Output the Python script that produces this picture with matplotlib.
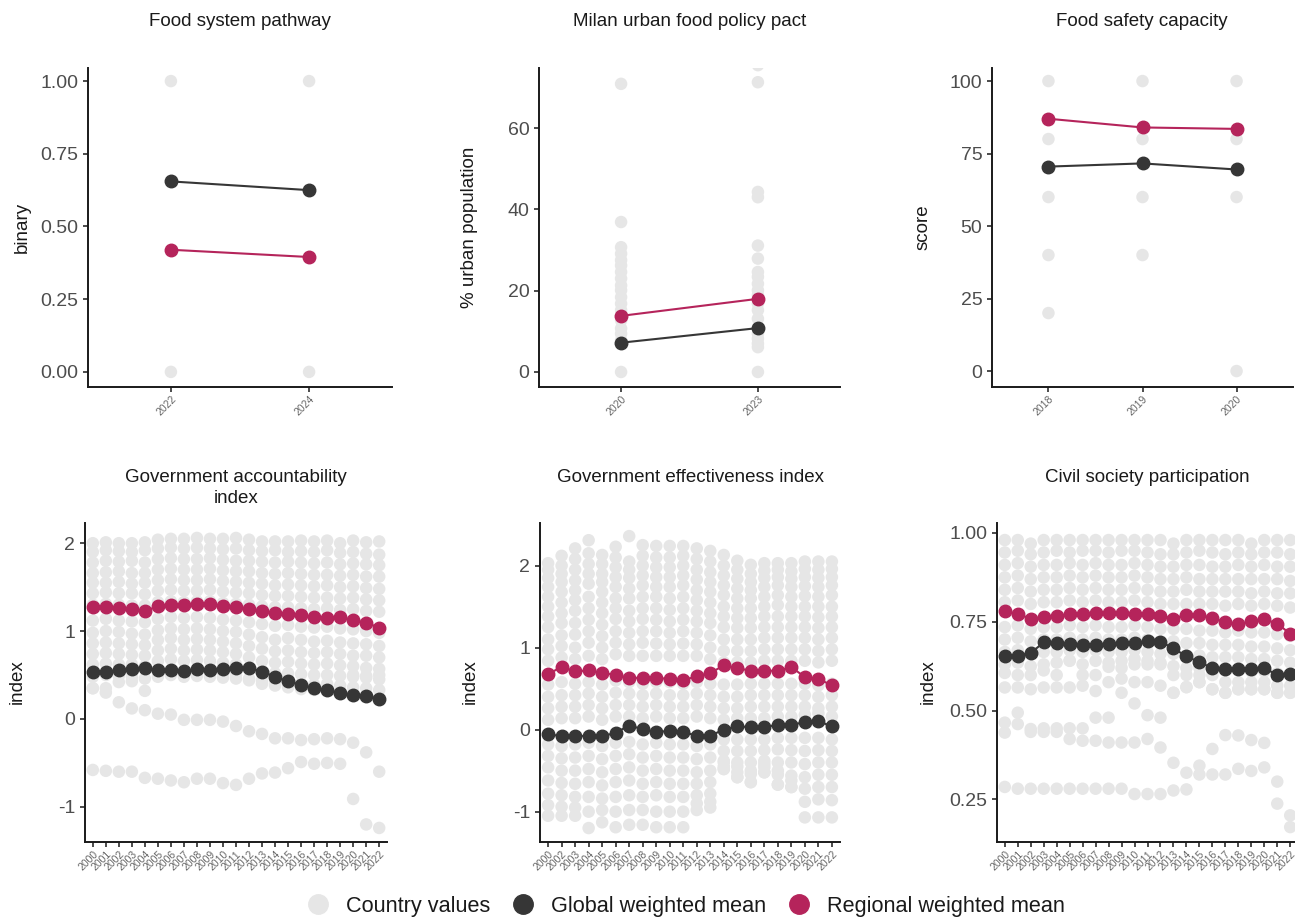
import matplotlib.pyplot as plt
from matplotlib.lines import Line2D

plt.rcParams['font.family'] = ['Liberation Sans', 'DejaVu Sans']

GREY = '#E6E6E6'
GLOBAL = '#363636'
REGIONAL = '#B5245B'

# ---- Food system pathway (values per year) ----
fsp_years = ['2022', '2024']
fsp_country = [[0, 1], [0, 1]]
fsp_global = [0.655, 0.625]
fsp_regional = [0.42, 0.395]

# ---- Milan urban food policy pact (values per year) ----
milan_years = ['2020', '2023']
milan_country = [
    [0, 7, 7.8, 9.4, 10.7, 12.7, 15.2, 16.8, 18.4, 20.1, 21.3, 23, 24.6, 26.2, 27.5, 29.1, 30.7, 36.9, 70.9],
    [0, 6.1, 7, 8.2, 9.4, 10.7, 13.1, 15.2, 16.8, 18.9, 20.1, 21.7, 23.4, 24.6, 27.9, 31.1, 43, 44.3, 71.3, 75.5],
]
milan_global = [7.2, 10.8]
milan_regional = [13.8, 18.0]

# ---- Food safety capacity (values per year) ----
fsc_years = ['2018', '2019', '2020']
fsc_country = [[20, 40, 60, 80, 100], [40, 60, 80, 100], [0, 60, 80, 100]]
fsc_global = [70.5, 71.6, 69.5]
fsc_regional = [87.0, 84.0, 83.5]

# ---- Government accountability index (one row per country) ----
ga_years = ['2000', '2001', '2002', '2003', '2004', '2005', '2006', '2007', '2008', '2009', '2010', '2011',
            '2012', '2013', '2014', '2015', '2016', '2017', '2018', '2019', '2020', '2021', '2022']
ga_country = [
    [2.00, 2.01, 2.00, 2.00, 2.01, 2.04, 2.05, 2.05, 2.06, 2.05, 2.05, 2.06, 2.04, 2.02, 2.02, 2.02, 2.03, 2.02, 2.03, 2.00, 2.03, 2.01, 2.02],
    [1.90, 1.92, 1.91, 1.90, 1.92, 1.94, 1.95, 1.94, 1.95, 1.94, 1.93, 1.94, 1.92, 1.91, 1.92, 1.90, 1.91, 1.90, 1.92, 1.89, 1.90, 1.88, 1.87],
    [1.78, 1.80, 1.79, 1.80, 1.78, 1.82, 1.83, 1.82, 1.82, 1.83, 1.81, 1.80, 1.80, 1.79, 1.78, 1.79, 1.78, 1.77, 1.78, 1.76, 1.77, 1.76, 1.75],
    [1.66, 1.67, 1.68, 1.66, 1.66, 1.70, 1.71, 1.70, 1.70, 1.71, 1.69, 1.68, 1.68, 1.66, 1.65, 1.66, 1.65, 1.64, 1.64, 1.63, 1.64, 1.62, 1.62],
    [1.55, 1.55, 1.56, 1.54, 1.55, 1.58, 1.59, 1.58, 1.58, 1.59, 1.57, 1.56, 1.55, 1.54, 1.52, 1.53, 1.52, 1.51, 1.52, 1.50, 1.51, 1.49, 1.48],
    [1.43, 1.44, 1.43, 1.43, 1.42, 1.46, 1.47, 1.46, 1.46, 1.47, 1.45, 1.44, 1.43, 1.41, 1.40, 1.40, 1.39, 1.38, 1.38, 1.37, 1.38, 1.36, 1.35],
    [1.30, 1.31, 1.30, 1.29, 1.29, 1.33, 1.34, 1.33, 1.34, 1.34, 1.32, 1.31, 1.30, 1.28, 1.27, 1.27, 1.26, 1.25, 1.26, 1.24, 1.25, 1.23, 1.22],
    [1.12, 1.14, 1.12, 1.11, 1.10, 1.14, 1.16, 1.15, 1.16, 1.15, 1.13, 1.12, 1.10, 1.08, 1.06, 1.07, 1.05, 1.04, 1.05, 1.03, 1.02, 1.00, 0.98],
    [0.98, 1.00, 0.99, 0.97, 0.96, 1.01, 1.03, 1.02, 1.03, 1.02, 1.00, 0.99, 0.96, 0.93, 0.90, 0.92, 0.90, 0.88, 0.89, 0.87, 0.86, 0.85, 0.83],
    [0.86, 0.87, 0.86, 0.85, 0.84, 0.90, 0.92, 0.90, 0.91, 0.90, 0.88, 0.86, 0.83, 0.80, 0.77, 0.78, 0.76, 0.75, 0.76, 0.74, 0.72, 0.72, 0.70],
    [0.74, 0.75, 0.74, 0.73, 0.72, 0.78, 0.80, 0.78, 0.79, 0.78, 0.76, 0.74, 0.70, 0.66, 0.64, 0.65, 0.63, 0.62, 0.63, 0.61, 0.60, 0.58, 0.57],
    [0.62, 0.63, 0.62, 0.62, 0.60, 0.66, 0.68, 0.66, 0.67, 0.66, 0.64, 0.62, 0.58, 0.54, 0.52, 0.52, 0.51, 0.50, 0.50, 0.49, 0.48, 0.47, 0.45],
    [0.48, 0.50, 0.49, 0.48, 0.46, 0.54, 0.55, 0.54, 0.54, 0.53, 0.52, 0.50, 0.46, 0.44, 0.41, 0.40, 0.40, 0.39, 0.40, 0.38, 0.36, 0.35, 0.33],
    [0.35, 0.30, 0.42, 0.43, 0.32, 0.48, 0.50, 0.48, 0.49, 0.48, 0.47, 0.46, 0.44, 0.40, 0.38, 0.36, 0.34, 0.33, 0.33, 0.30, 0.50, 0.49, 0.50],
    [0.35, 0.35, 0.19, 0.12, 0.10, 0.06, 0.05, -0.01, -0.01, -0.01, -0.03, -0.08, -0.14, -0.17, -0.22, -0.22, -0.24, -0.23, -0.22, -0.23, -0.27, -0.38, -0.60],
    [-0.58, -0.59, -0.60, -0.60, -0.67, -0.68, -0.70, -0.72, -0.68, -0.68, -0.73, -0.75, -0.68, -0.62, -0.61, -0.56, -0.49, -0.51, -0.50, -0.51, -0.91, -1.20, -1.24],
]
ga_global = [0.54, 0.54, 0.555, 0.57, 0.575, 0.555, 0.555, 0.548, 0.563, 0.555, 0.563, 0.58, 0.578,
             0.54, 0.479, 0.43, 0.388, 0.35, 0.327, 0.297, 0.274, 0.266, 0.228]
ga_regional = [1.274, 1.274, 1.259, 1.251, 1.228, 1.281, 1.297, 1.297, 1.304, 1.304, 1.285, 1.274, 1.255,
               1.224, 1.202, 1.194, 1.183, 1.16, 1.152, 1.16, 1.125, 1.095, 1.038]

# ---- Government effectiveness index (no 2001) ----
ge_years = ['2000', '2002', '2003', '2004', '2005', '2006', '2007', '2008', '2009', '2010', '2011',
            '2012', '2013', '2014', '2015', '2016', '2017', '2018', '2019', '2020', '2021', '2022']
ge_country = [
    [2.03, 2.12, 2.21, 2.31, 2.13, 2.23, 2.36, 2.25, 2.24, 2.24, 2.24, 2.21, 2.18, 2.13, 2.06, 2.01, 2.03, 2.03, 2.03, 2.05, 2.05, 2.05],
    [1.95, 2.00, 2.08, 2.15, 2.02, 2.10, 2.05, 2.12, 2.10, 2.10, 2.12, 2.08, 2.05, 2.00, 1.95, 1.90, 1.94, 1.95, 1.93, 1.96, 1.95, 1.96],
    [1.85, 1.90, 1.95, 2.02, 1.90, 1.98, 1.95, 2.00, 1.98, 1.98, 2.00, 1.95, 1.92, 1.88, 1.84, 1.80, 1.85, 1.86, 1.84, 1.86, 1.85, 1.86],
    [1.74, 1.80, 1.82, 1.90, 1.80, 1.86, 1.85, 1.88, 1.86, 1.86, 1.88, 1.83, 1.80, 1.76, 1.72, 1.70, 1.74, 1.76, 1.74, 1.75, 1.74, 1.76],
    [1.62, 1.68, 1.70, 1.78, 1.68, 1.74, 1.72, 1.76, 1.74, 1.74, 1.76, 1.70, 1.68, 1.64, 1.60, 1.60, 1.62, 1.64, 1.62, 1.63, 1.62, 1.64],
    [1.50, 1.55, 1.58, 1.62, 1.55, 1.60, 1.60, 1.62, 1.62, 1.60, 1.62, 1.58, 1.55, 1.50, 1.48, 1.48, 1.50, 1.52, 1.50, 1.50, 1.50, 1.50],
    [1.38, 1.42, 1.45, 1.48, 1.42, 1.48, 1.45, 1.48, 1.48, 1.46, 1.48, 1.45, 1.42, 1.38, 1.36, 1.36, 1.38, 1.38, 1.38, 1.38, 1.37, 1.38],
    [1.25, 1.30, 1.30, 1.34, 1.28, 1.35, 1.32, 1.35, 1.34, 1.32, 1.34, 1.32, 1.30, 1.25, 1.24, 1.24, 1.25, 1.25, 1.25, 1.25, 1.24, 1.25],
    [1.10, 1.15, 1.16, 1.20, 1.14, 1.20, 1.18, 1.20, 1.20, 1.18, 1.20, 1.18, 1.15, 1.10, 1.10, 1.10, 1.12, 1.12, 1.12, 1.12, 1.10, 1.12],
    [0.98, 1.02, 1.00, 1.06, 1.00, 1.06, 1.04, 1.06, 1.05, 1.04, 1.05, 1.04, 1.00, 0.96, 0.96, 0.96, 0.98, 0.98, 0.98, 0.98, 0.96, 0.98],
    [0.84, 0.88, 0.86, 0.90, 0.86, 0.92, 0.90, 0.90, 0.90, 0.90, 0.90, 0.90, 0.86, 0.82, 0.82, 0.82, 0.84, 0.84, 0.84, 0.84, 0.82, 0.84],
    [0.55, 0.58, 0.56, 0.58, 0.55, 0.60, 0.58, 0.56, 0.58, 0.58, 0.56, 0.58, 0.56, 0.55, 0.55, 0.56, 0.56, 0.56, 0.56, 0.56, 0.54, 0.56],
    [0.40, 0.42, 0.42, 0.44, 0.40, 0.45, 0.44, 0.42, 0.44, 0.42, 0.42, 0.44, 0.42, 0.40, 0.40, 0.42, 0.42, 0.42, 0.42, 0.42, 0.40, 0.42],
    [0.26, 0.28, 0.28, 0.30, 0.26, 0.30, 0.30, 0.28, 0.30, 0.28, 0.28, 0.30, 0.28, 0.26, 0.26, 0.28, 0.28, 0.28, 0.28, 0.28, 0.26, 0.28],
    [0.12, 0.14, 0.14, 0.16, 0.12, 0.16, 0.16, 0.14, 0.16, 0.14, 0.14, 0.16, 0.14, 0.12, 0.14, 0.14, 0.14, 0.16, 0.16, 0.18, 0.20, 0.16],
    [-0.18, -0.20, -0.18, -0.16, -0.20, -0.16, -0.15, -0.18, -0.16, -0.18, -0.18, -0.20, -0.18, -0.12, -0.12, -0.12, -0.12, -0.10, -0.10, -0.10, -0.10, -0.12],
    [-0.32, -0.35, -0.34, -0.32, -0.36, -0.32, -0.30, -0.34, -0.32, -0.34, -0.34, -0.36, -0.34, -0.26, -0.26, -0.26, -0.25, -0.24, -0.25, -0.26, -0.25, -0.26],
    [-0.46, -0.50, -0.50, -0.48, -0.52, -0.48, -0.46, -0.50, -0.48, -0.50, -0.50, -0.52, -0.50, -0.38, -0.40, -0.40, -0.38, -0.40, -0.40, -0.42, -0.40, -0.40],
    [-0.62, -0.65, -0.66, -0.64, -0.68, -0.64, -0.62, -0.66, -0.64, -0.66, -0.66, -0.66, -0.64, -0.48, -0.52, -0.54, -0.46, -0.55, -0.56, -0.58, -0.55, -0.55],
    [-0.78, -0.80, -0.82, -0.82, -0.84, -0.82, -0.80, -0.82, -0.80, -0.82, -0.82, -0.80, -0.78, -0.45, -0.58, -0.64, -0.52, -0.67, -0.70, -0.72, -0.70, -0.70],
    [-0.92, -0.94, -0.95, -1.00, -0.98, -1.00, -0.98, -0.98, -1.00, -1.00, -1.00, -0.90, -0.88, -0.40, -0.45, -0.50, -0.42, -0.50, -0.62, -0.88, -0.85, -0.86],
    [-1.05, -1.05, -1.05, -1.20, -1.13, -1.19, -1.16, -1.16, -1.19, -1.19, -1.19, -0.98, -0.95, -0.48, -0.58, -0.64, -0.52, -0.67, -0.70, -1.07, -1.07, -1.07],
]
ge_global = [-0.053, -0.082, -0.082, -0.073, -0.082, -0.037, 0.049, 0.008, -0.033, -0.012, -0.029,
             -0.073, -0.073, 0.0, 0.041, 0.029, 0.029, 0.061, 0.061, 0.09, 0.102, 0.041]
ge_regional = [0.68, 0.763, 0.71, 0.722, 0.69, 0.669, 0.629, 0.633, 0.629, 0.62, 0.6,
               0.653, 0.69, 0.784, 0.751, 0.718, 0.718, 0.718, 0.763, 0.641, 0.62, 0.539]

# ---- Civil society participation (one row per country) ----
cs_years = ga_years
cs_country = [
    [0.98, 0.98, 0.97, 0.98, 0.98, 0.98, 0.98, 0.98, 0.98, 0.98, 0.98, 0.98, 0.98, 0.97, 0.98, 0.98, 0.98, 0.98, 0.98, 0.97, 0.98, 0.98, 0.98],
    [0.945, 0.95, 0.94, 0.945, 0.95, 0.945, 0.95, 0.95, 0.945, 0.95, 0.95, 0.945, 0.94, 0.94, 0.945, 0.95, 0.945, 0.94, 0.945, 0.94, 0.945, 0.945, 0.94],
    [0.91, 0.915, 0.905, 0.91, 0.91, 0.915, 0.91, 0.915, 0.91, 0.91, 0.915, 0.91, 0.905, 0.905, 0.91, 0.91, 0.905, 0.905, 0.91, 0.905, 0.91, 0.905, 0.905],
    [0.875, 0.88, 0.87, 0.875, 0.875, 0.88, 0.875, 0.88, 0.875, 0.875, 0.88, 0.875, 0.87, 0.87, 0.875, 0.87, 0.87, 0.87, 0.87, 0.87, 0.87, 0.87, 0.865],
    [0.84, 0.845, 0.835, 0.84, 0.84, 0.845, 0.84, 0.845, 0.84, 0.84, 0.845, 0.84, 0.835, 0.835, 0.84, 0.835, 0.835, 0.835, 0.835, 0.83, 0.835, 0.83, 0.83],
    [0.805, 0.81, 0.80, 0.805, 0.805, 0.81, 0.805, 0.81, 0.805, 0.805, 0.81, 0.805, 0.80, 0.80, 0.80, 0.80, 0.80, 0.795, 0.80, 0.795, 0.80, 0.795, 0.79],
    [0.735, 0.74, 0.73, 0.735, 0.735, 0.74, 0.735, 0.74, 0.735, 0.735, 0.74, 0.735, 0.73, 0.73, 0.73, 0.725, 0.725, 0.72, 0.725, 0.72, 0.72, 0.715, 0.71],
    [0.70, 0.705, 0.695, 0.70, 0.70, 0.705, 0.70, 0.705, 0.70, 0.70, 0.705, 0.70, 0.695, 0.695, 0.69, 0.69, 0.685, 0.685, 0.685, 0.68, 0.68, 0.675, 0.67],
    [0.665, 0.67, 0.66, 0.665, 0.665, 0.67, 0.665, 0.67, 0.665, 0.665, 0.67, 0.665, 0.66, 0.66, 0.655, 0.655, 0.65, 0.65, 0.65, 0.645, 0.645, 0.64, 0.635],
    [0.63, 0.635, 0.625, 0.63, 0.635, 0.64, 0.63, 0.64, 0.635, 0.64, 0.645, 0.64, 0.635, 0.625, 0.62, 0.62, 0.615, 0.615, 0.615, 0.61, 0.61, 0.605, 0.60],
    [0.606, 0.60, 0.60, 0.613, 0.60, 0.641, 0.60, 0.60, 0.623, 0.62, 0.63, 0.63, 0.63, 0.60, 0.60, 0.60, 0.60, 0.58, 0.58, 0.58, 0.58, 0.57, 0.57],
    [0.565, 0.565, 0.56, 0.565, 0.565, 0.565, 0.57, 0.555, 0.58, 0.59, 0.58, 0.58, 0.57, 0.55, 0.566, 0.58, 0.56, 0.55, 0.56, 0.56, 0.56, 0.55, 0.55],
    [0.466, 0.494, 0.448, 0.45, 0.45, 0.45, 0.45, 0.48, 0.48, 0.55, 0.52, 0.487, 0.48, 0.55, 0.566, 0.58, 0.56, 0.55, 0.56, 0.56, 0.56, 0.55, 0.55],
    [0.438, 0.462, 0.44, 0.44, 0.44, 0.42, 0.415, 0.415, 0.41, 0.41, 0.41, 0.42, 0.396, 0.353, 0.325, 0.345, 0.392, 0.431, 0.43, 0.417, 0.409, 0.30, 0.205],
    [0.285, 0.28, 0.28, 0.28, 0.28, 0.28, 0.28, 0.28, 0.28, 0.28, 0.265, 0.265, 0.265, 0.275, 0.278, 0.32, 0.32, 0.32, 0.336, 0.33, 0.34, 0.238, 0.172],
]
cs_global = [0.653, 0.655, 0.662, 0.692, 0.69, 0.687, 0.685, 0.684, 0.688, 0.69, 0.69, 0.695, 0.694,
             0.675, 0.653, 0.636, 0.62, 0.616, 0.616, 0.618, 0.619, 0.601, 0.602]
cs_regional = [0.781, 0.771, 0.759, 0.763, 0.765, 0.772, 0.772, 0.774, 0.774, 0.776, 0.772, 0.771, 0.767,
               0.759, 0.77, 0.77, 0.76, 0.749, 0.743, 0.751, 0.757, 0.745, 0.716]

W, H = 1295, 922
fig = plt.figure(figsize=(W / 100, H / 100), dpi=100)


def add_axes(left, top, right, bottom):
    return fig.add_axes([left / W, 1 - bottom / H, (right - left) / W, (bottom - top) / H])


def panel(ax, years, by_year, glob, reg, ylim, yticks, yticklabels):
    x = list(range(len(years)))
    for i, vals in enumerate(by_year):
        ax.scatter([i] * len(vals), vals, s=81, color=GREY, edgecolors='none', zorder=1)
    ax.plot(x, glob, color=GLOBAL, lw=1.5, marker='o', ms=9, zorder=3)
    ax.plot(x, reg, color=REGIONAL, lw=1.5, marker='o', ms=9, zorder=4)
    ax.set_xlim(-0.6, len(years) - 1 + 0.6)
    ax.set_ylim(*ylim)
    ax.set_xticks(x)
    ax.set_xticklabels(years, rotation=45, ha='right', va='top', rotation_mode='anchor')
    ax.set_yticks(yticks)
    ax.set_yticklabels(yticklabels)
    for s in ['top', 'right']:
        ax.spines[s].set_visible(False)
    for s in ['left', 'bottom']:
        ax.spines[s].set_linewidth(1.4)
        ax.spines[s].set_color('#1a1a1a')
    ax.tick_params(axis='y', labelsize=14, color='#1a1a1a', labelcolor='#4d4d4d', length=3.5, width=1.1, pad=3.5)
    ax.tick_params(axis='x', labelsize=7.5, color='#1a1a1a', labelcolor='#666666', length=3.5, width=1.1, pad=1.5)


def rows_to_years(rows):
    return [list(col) for col in zip(*rows)]


ax1 = add_axes(88, 68, 392, 387)
panel(ax1, fsp_years, fsp_country, fsp_global, fsp_regional, (-0.052, 1.045),
      [0, 0.25, 0.5, 0.75, 1.0], ['0.00', '0.25', '0.50', '0.75', '1.00'])
ax2 = add_axes(539, 68, 840, 387)
panel(ax2, milan_years, milan_country, milan_global, milan_regional, (-3.7, 74.8),
      [0, 20, 40, 60], ['0', '20', '40', '60'])
ax3 = add_axes(992, 68, 1293, 387)
panel(ax3, fsc_years, fsc_country, fsc_global, fsc_regional, (-5.5, 104.5),
      [0, 25, 50, 75, 100], ['0', '25', '50', '75', '100'])
ax4 = add_axes(85, 523, 387, 842)
panel(ax4, ga_years, rows_to_years(ga_country), ga_global, ga_regional, (-1.40, 2.23),
      [-1, 0, 1, 2], ['-1', '0', '1', '2'])
ax5 = add_axes(540, 523, 840, 842)
panel(ax5, ge_years, rows_to_years(ge_country), ge_global, ge_regional, (-1.37, 2.52),
      [-1, 0, 1, 2], ['-1', '0', '1', '2'])
ax6 = add_axes(997, 523, 1298, 842)
panel(ax6, cs_years, rows_to_years(cs_country), cs_global, cs_regional, (0.13, 1.028),
      [0.25, 0.5, 0.75, 1.0], ['0.25', '0.50', '0.75', '1.00'])

# titles
titles = [
    (240, 13, 'Food system pathway'),
    (690, 13, 'Milan urban food policy pact'),
    (1142, 13, 'Food safety capacity'),
    (236, 469, 'Government accountability\nindex'),
    (690, 469, 'Government effectiveness index'),
    (1147, 469, 'Civil society participation'),
]
for cx, ty, t in titles:
    fig.text(cx / W, 1 - ty / H, t, ha='center', va='top', fontsize=13.5, color='#1a1a1a', linespacing=1.3)

# y-axis labels
ylabels = [
    (22, 227, 'binary'),
    (470, 227, '% urban population'),
    (923, 227, 'score'),
    (17, 682, 'index'),
    (470, 682, 'index'),
    (928, 682, 'index'),
]
for lx, ly, t in ylabels:
    fig.text(lx / W, 1 - ly / H, t, rotation=90, ha='center', va='center', fontsize=13.5, color='#1a1a1a')

handles = [
    Line2D([], [], marker='o', linestyle='none', markersize=14, color=GREY),
    Line2D([], [], marker='o', linestyle='none', markersize=14, color=GLOBAL),
    Line2D([], [], marker='o', linestyle='none', markersize=14, color=REGIONAL),
]
fig.legend(handles, ['Country values', 'Global weighted mean', 'Regional weighted mean'],
           loc='center', bbox_to_anchor=(686 / W, 1 - 906 / H), ncol=3, frameon=False,
           fontsize=15.6, handlelength=1.0, handletextpad=0.8, columnspacing=1.0, borderaxespad=0,
           labelcolor='#1a1a1a')

fig.savefig('out.png', dpi=100)
